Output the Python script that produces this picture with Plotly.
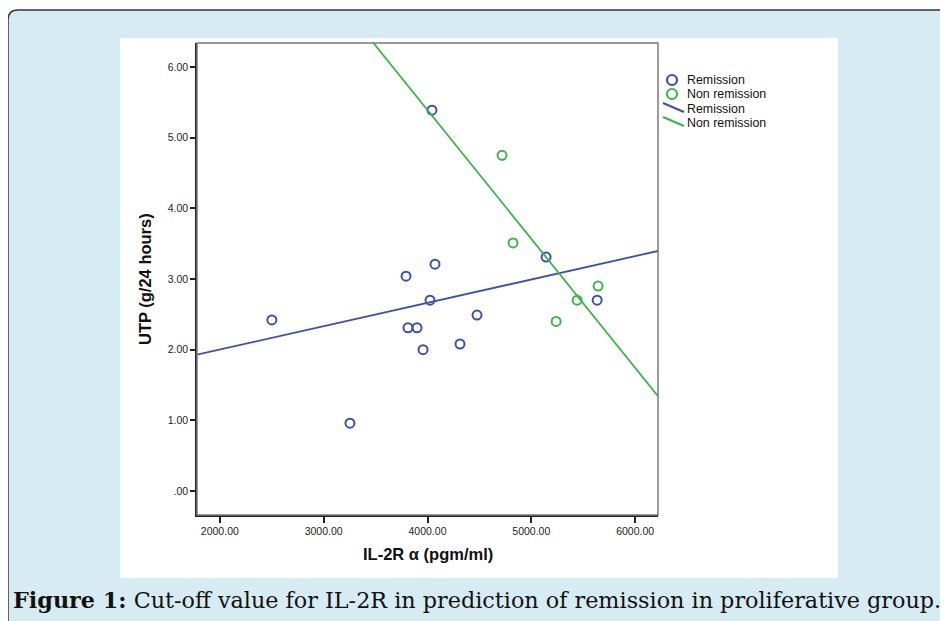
import numpy as np
import plotly.graph_objects as go

# ---- data ----
rem_x = [2501, 3253, 3793, 3812, 3899, 3957, 4024, 4072, 4043, 4313, 4477, 5142, 5634]
rem_y = [2.42, 0.96, 3.04, 2.31, 2.31, 2.00, 2.70, 3.21, 5.39, 2.08, 2.49, 3.31, 2.70]
non_x = [4718, 4824, 5239, 5441, 5643]
non_y = [4.75, 3.51, 2.40, 2.70, 2.90]

x_range = [1780, 6220]
y_range = [-0.34, 6.34]
x_ticks = [2000, 3000, 4000, 5000, 6000]
x_ticktext = ["2000.00", "3000.00", "4000.00", "5000.00", "6000.00"]
y_ticks = [0, 1, 2, 3, 4, 5, 6]
y_ticktext = [".00", "1.00", "2.00", "3.00", "4.00", "5.00", "6.00"]
legend_labels = ["Remission", "Non remission", "Remission", "Non remission"]

BLUE = "#3d50b0"
GREEN = "#3bb54a"

# linear fits (as SPSS fit lines)
br = np.polyfit(rem_x, rem_y, 1)
gr = np.polyfit(non_x, non_y, 1)
fit_x = np.array(x_range, dtype=float)

OFF = 8  # page body margin
W, H = 948, 621
L, R, T, B = 197 - OFF, 658 - OFF, 43 - OFF, 515 - OFF


def px(x):
    """screen pixel x -> paper"""
    return (x - OFF - L) / (R - L)


def py(y):
    """screen pixel y -> paper"""
    return (B - (y - OFF)) / (B - T)


fig = go.Figure()
fig.add_trace(go.Scatter(x=rem_x, y=rem_y, mode="markers", name="Remission", showlegend=False,
                         marker=dict(symbol="circle-open", size=9, color=BLUE,
                                     line=dict(width=2, color=BLUE))))
fig.add_trace(go.Scatter(x=non_x, y=non_y, mode="markers", name="Non remission", showlegend=False,
                         marker=dict(symbol="circle-open", size=9, color=GREEN,
                                     line=dict(width=2, color=GREEN))))
fig.add_trace(go.Scatter(x=fit_x, y=np.polyval(br, fit_x), mode="lines", name="Remission",
                         showlegend=False, line=dict(color=BLUE, width=1.8)))
fig.add_trace(go.Scatter(x=fit_x, y=np.polyval(gr, fit_x), mode="lines", name="Non remission",
                         showlegend=False, line=dict(color=GREEN, width=1.8)))

# background frame with rounded top-left corner
path = "M {:.5f} {:.5f} L {:.5f} {:.5f} Q {:.5f} {:.5f} {:.5f} {:.5f} L {:.5f} {:.5f} L {:.5f} {:.5f} Z".format(
    px(8), py(640), px(8), py(20), px(8), py(10), px(18), py(10),
    px(970), py(10), px(970), py(640))
shapes = [
    dict(type="path", path=path, xref="paper", yref="paper", layer="below",
         fillcolor="#d7ecf2", line=dict(color="#333333", width=1.5)),
    dict(type="rect", xref="paper", yref="paper", layer="below",
         x0=px(120), x1=px(838), y0=py(578), y1=py(38),
         fillcolor="white", line=dict(width=0)),
    dict(type="rect", xref="paper", yref="paper", layer="above",
         x0=0, x1=1, y0=0, y1=1, line=dict(color="#7a7a7a", width=1.5)),
]

# custom legend (SPSS style)
leg_y = [80, 94, 109, 123]
leg_colors = [BLUE, GREEN, BLUE, GREEN]
cx, rad = 672, 5
for i in range(2):
    shapes.append(dict(type="circle", xref="paper", yref="paper",
                       x0=px(cx - rad), x1=px(cx + rad), y0=py(leg_y[i] + rad), y1=py(leg_y[i] - rad),
                       line=dict(color=leg_colors[i], width=2.2), fillcolor="rgba(0,0,0,0)"))
for i in range(2, 4):
    shapes.append(dict(type="line", xref="paper", yref="paper",
                       x0=px(663), x1=px(684), y0=py(leg_y[i] - 6), y1=py(leg_y[i] + 3),
                       line=dict(color=leg_colors[i], width=2)))

annotations = [
    dict(text="<b>IL-2R α (pgm/ml)</b>", xref="paper", yref="paper",
         x=px(428), y=py(554), showarrow=False, xanchor="center", yanchor="middle",
         font=dict(family="Liberation Sans, Arial", size=16.5, color="#111")),
    dict(text="<b>UTP (g/24 hours)</b>", xref="paper", yref="paper", textangle=-90,
         x=px(145), y=py(279), showarrow=False, xanchor="center", yanchor="middle",
         font=dict(family="Liberation Sans, Arial", size=16.5, color="#111")),
    dict(text="<b>Figure 1:</b> Cut-off value for IL-2R in prediction of remission in proliferative group.",
         xref="paper", yref="paper", x=px(477), y=py(600), showarrow=False,
         xanchor="center", yanchor="middle",
         font=dict(family="DejaVu Serif, serif", size=22.3, color="#111")),
]
for lab, yy in zip(legend_labels, leg_y):
    annotations.append(dict(text=lab, xref="paper", yref="paper", x=px(685), y=py(yy),
                            showarrow=False, xanchor="left", yanchor="middle",
                            font=dict(family="Liberation Sans, Arial", size=12.4, color="#111")))

fig.update_layout(
    width=W, height=H,
    margin=dict(l=L, r=W - R, t=T, b=H - B, pad=0),
    paper_bgcolor="white", plot_bgcolor="white",
    shapes=shapes, annotations=annotations,
    showlegend=False,
    xaxis=dict(range=x_range, tickvals=x_ticks, ticktext=x_ticktext, showgrid=False,
               zeroline=False, showline=True, linecolor="#222", linewidth=1.5,
               ticks="outside", ticklen=6, tickcolor="#222", tickwidth=1.5,
               tickfont=dict(family="Liberation Sans, Arial", size=10.5, color="#222")),
    yaxis=dict(range=y_range, tickvals=y_ticks, ticktext=y_ticktext, showgrid=False,
               zeroline=False, showline=True, linecolor="#222", linewidth=1.5,
               ticks="outside", ticklen=5, tickcolor="#222", tickwidth=1.5,
               tickfont=dict(family="Liberation Sans, Arial", size=10.5, color="#222")),
)

fig.write_html("out.html")
